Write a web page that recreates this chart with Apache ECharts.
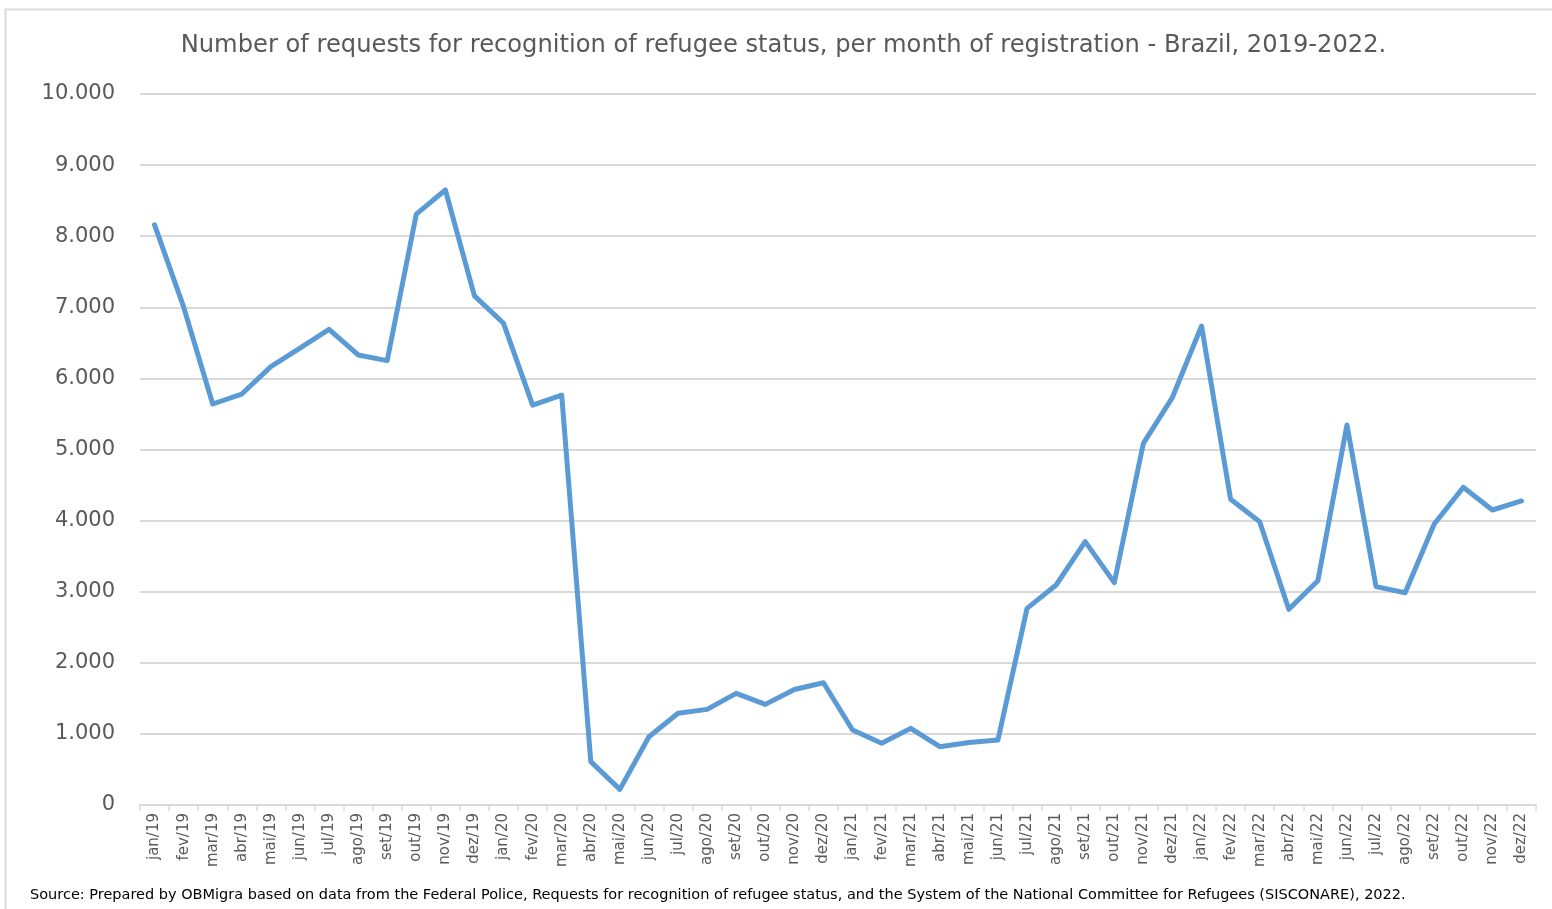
<!DOCTYPE html>
<html>
<head>
<meta charset="utf-8">
<script src="https://cdn.jsdelivr.net/npm/echarts@6/dist/echarts.min.js"></script>
<style>
html,body{margin:0;padding:0;background:#fff;}
#chart{width:1552px;height:909px;}
</style>
</head>
<body>
<div id="chart"></div>
<script>
const categories = [
  'jan/19','fev/19','mar/19','abr/19','mai/19','jun/19','jul/19','ago/19','set/19','out/19','nov/19','dez/19',
  'jan/20','fev/20','mar/20','abr/20','mai/20','jun/20','jul/20','ago/20','set/20','out/20','nov/20','dez/20',
  'jan/21','fev/21','mar/21','abr/21','mai/21','jun/21','jul/21','ago/21','set/21','out/21','nov/21','dez/21',
  'jan/22','fev/22','mar/22','abr/22','mai/22','jun/22','jul/22','ago/22','set/22','out/22','nov/22','dez/22'
];
const requests = [
  8160, 7005, 5640, 5780, 6165, 6425, 6690, 6330, 6250, 8310, 8650, 7160,
  6775, 5625, 5765, 610, 220, 960, 1290, 1345, 1570, 1415, 1625, 1720,
  1055, 868, 1078, 820, 880, 915, 2766, 3094, 3704, 3127, 5087, 5734,
  6737, 4299, 3985, 2752, 3155, 5345, 3071, 2986, 3952, 4468, 4149, 4276
];
const yTicks = [0, 1000, 2000, 3000, 4000, 5000, 6000, 7000, 8000, 9000, 10000];
const titleText = 'Number of requests for recognition of refugee status, per month of registration - Brazil, 2019-2022.';
const sourceText = 'Source: Prepared by OBMigra based on data from the Federal Police, Requests for recognition of refugee status, and the System of the National Committee for Refugees (SISCONARE), 2022.';

function fmt(v){
  return String(v).replace(/\B(?=(\d{3})+(?!\d))/g, '.');
}

const chart = echarts.init(document.getElementById('chart'), null, {renderer:'canvas'});
chart.setOption({
  backgroundColor: '#ffffff',
  animation: false,
  textStyle: {fontFamily: 'DejaVu Sans'},
  graphic: [
    {type:'rect', left: 3, top: 7, shape:{width:1570, height:930}, style:{fill:'none', stroke:'#d9d9d9', lineWidth:2}, silent:true},
    {type:'text', x: 783.5, y: 46, style:{text: titleText, font: '24.2px "DejaVu Sans"', fill:'#595959', textAlign:'center', textVerticalAlign:'middle'}},
    {type:'text', x: 30, y: 895, style:{text: sourceText, font: '14.5px "DejaVu Sans"', fill:'#000000', textAlign:'left', textVerticalAlign:'middle'}}
  ],
  grid: {left: 140, right: 16, top: 94, bottom: 104, containLabel: false},
  xAxis: {
    type: 'category',
    data: categories,
    boundaryGap: true,
    axisLine: {lineStyle: {color: '#d9d9d9', width: 2}},
    axisTick: {show: true, length: 6, lineStyle: {color: '#d9d9d9', width: 1.5}},
    axisLabel: {rotate: 90, interval: 0, color: '#595959', fontSize: 15, fontFamily: 'DejaVu Sans', margin: 8}
  },
  yAxis: {
    type: 'value',
    min: yTicks[0], max: yTicks[yTicks.length - 1], interval: yTicks[1] - yTicks[0],
    axisLine: {show: false},
    axisTick: {show: false},
    splitLine: {lineStyle: {color: '#d9d9d9', width: 2}},
    axisLabel: {formatter: fmt, color: '#595959', fontSize: 21, fontFamily: 'DejaVu Sans', margin: 25, padding: [3, 0, 0, 0]}
  },
  series: [{
    type: 'line',
    data: requests,
    showSymbol: false,
    symbol: 'none',
    lineStyle: {color: '#5b9bd5', width: 5, cap: 'round', join: 'round'},
    itemStyle: {color: '#5b9bd5'}
  }]
});
</script>
</body>
</html>
